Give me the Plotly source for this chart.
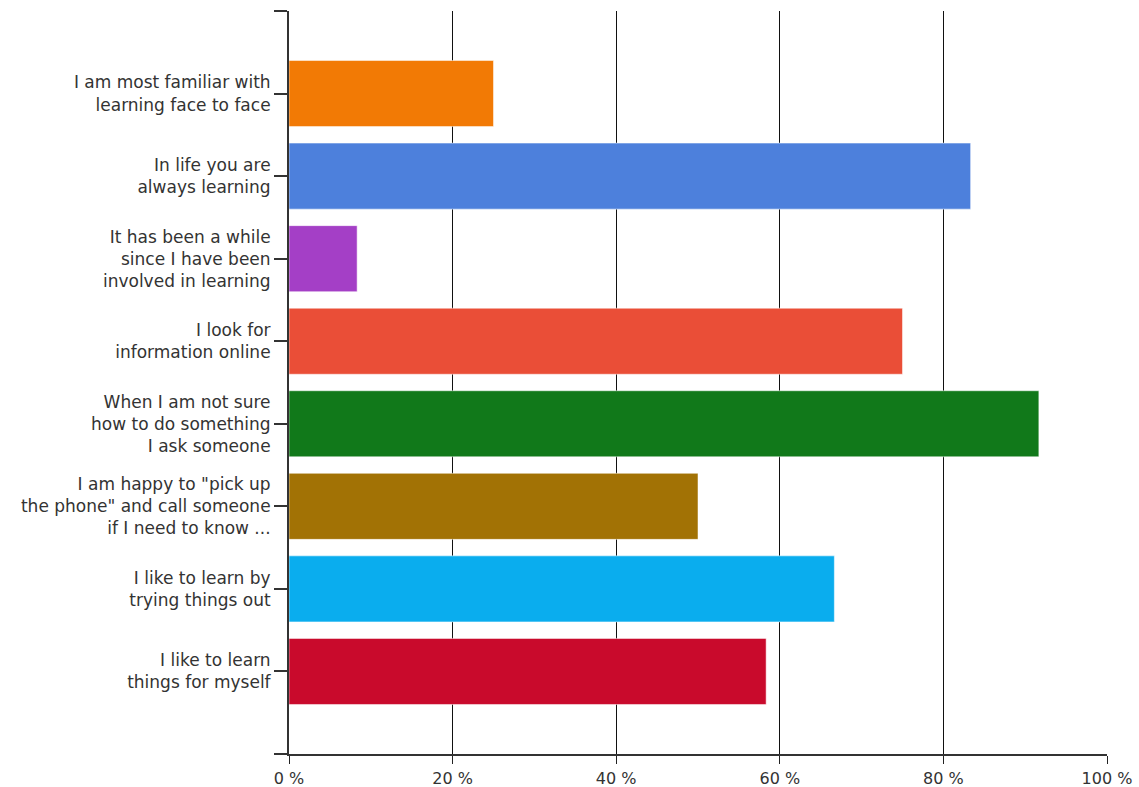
import plotly.graph_objects as go

categories = [
    "I am most familiar with<br>learning face to face",
    "In life you are<br>always learning",
    "It has been a while<br>since I have been<br>involved in learning",
    "I look for<br>information online",
    "When I am not sure<br>how to do something<br>I ask someone",
    "I am happy to \"pick up<br>the phone\" and call someone<br>if I need to know ...",
    "I like to learn by<br>trying things out",
    "I like to learn<br>things for myself",
]
values = [25.0, 83.33, 8.33, 75.0, 91.67, 50.0, 66.67, 58.33]
colors = ["#F27A05", "#4D80DC", "#A43FC6", "#EA4E37", "#11791A", "#A27205", "#0AADEE", "#C90A2C"]
x_ticks = [0, 20, 40, 60, 80, 100]
x_tick_labels = ["0 %", "20 %", "40 %", "60 %", "80 %", "100 %"]

idx = list(range(len(categories)))

fig = go.Figure()
fig.add_trace(go.Bar(
    x=values, y=idx, orientation="h",
    marker=dict(color=colors, line=dict(color="rgba(255,255,255,0.5)", width=1)),
    width=0.8, hoverinfo="x+y",
))

fig.update_layout(
    width=1139, height=787,
    margin=dict(l=289, r=32, t=11, b=33),
    paper_bgcolor="white", plot_bgcolor="white",
    showlegend=False,
    font=dict(family="DejaVu Sans, Verdana, sans-serif", size=17, color="#333333"),
)
fig.update_xaxes(
    range=[0, 100], tickvals=x_ticks, ticktext=x_tick_labels,
    showgrid=True, gridcolor="#111111", gridwidth=1.3,
    showline=True, linecolor="#333333", linewidth=2,
    ticks="outside", ticklen=8, tickcolor="#222222", tickwidth=1.3,
    zeroline=False, fixedrange=True, ticklabelstandoff=1, automargin=False,
    tickfont=dict(size=16, color="#333333"),
)
fig.update_yaxes(
    range=[8, -1],
    tickvals=[-1] + idx + [8], ticktext=[""] + categories + [""],
    showgrid=False, showline=True, linecolor="#333333", linewidth=2,
    ticks="outside", ticklen=13, tickcolor="#333333", tickwidth=1.5,
    zeroline=False, fixedrange=True, automargin=False,
    tickfont=dict(size=17, color="#333333"),
)

fig.write_html("out.html")
